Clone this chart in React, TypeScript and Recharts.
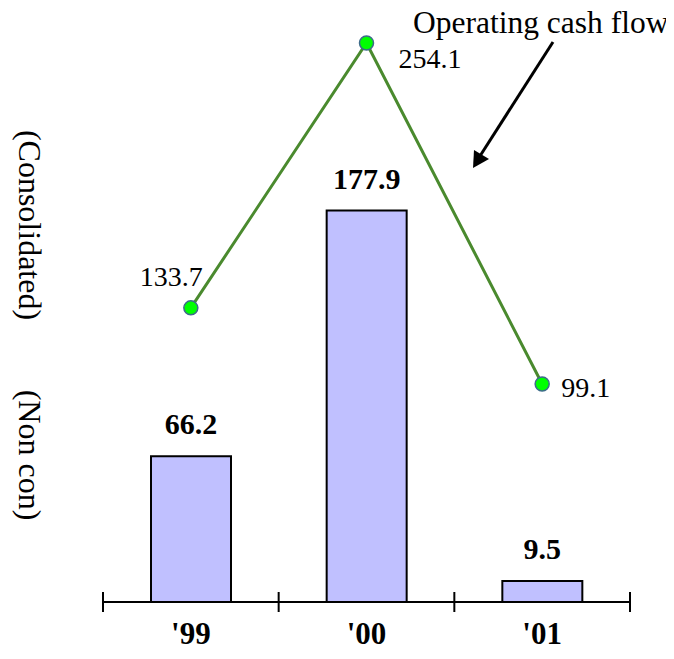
import { ComposedChart, Bar, Line, XAxis, YAxis, LabelList, Customized } from 'recharts';

const years = ["'99", "'00", "'01"];
const nonConsolidated = [66.2, 177.9, 9.5];
const operatingCashFlow = [133.7, 254.1, 99.1];

const data = years.map((year, i) => ({
  year,
  nonCon: nonConsolidated[i],
  cashFlow: operatingCashFlow[i],
}));

const FONT = '"Liberation Serif", "Times New Roman", serif';

// where each cash flow label sits relative to its point
const cashLabelPlacement = [
  { dx: 12, dy: -22, anchor: 'end' },
  { dx: 32, dy: 25, anchor: 'start' },
  { dx: 19, dy: 13, anchor: 'start' },
];

const YearTick = (props: any) => {
  const { x, y, payload, index, width, visibleTicksCount } = props;
  const count = visibleTicksCount || years.length;
  const band = typeof width === 'number' ? width / count : (payload.offset || 0) * 2;
  const left = x - band / 2;
  const right = x + band / 2;
  return (
    <g>
      <line x1={left} x2={left} y1={y - 10} y2={y + 10} stroke="#000" strokeWidth={2} />
      {index === count - 1 && (
        <line x1={right} x2={right} y1={y - 10} y2={y + 10} stroke="#000" strokeWidth={2} />
      )}
      <text x={x} y={y + 42} textAnchor="middle" fontFamily={FONT} fontSize={31} fontWeight="bold" fill="#000">
        {payload.value}
      </text>
    </g>
  );
};

const CashLabel = (props: any) => {
  const { x, y, value, index } = props;
  const p = cashLabelPlacement[index] || cashLabelPlacement[0];
  return (
    <text x={x + p.dx} y={y + p.dy} textAnchor={p.anchor} fontFamily={FONT} fontSize={28} fill="#000">
      {value}
    </text>
  );
};

const Annotations = () => (
  <g fontFamily={FONT} fill="#000">
    <text x={413} y={33} fontSize={31.5}>Operating cash flow</text>
    <line x1={553} y1={42} x2={480} y2={156} stroke="#000" strokeWidth={3} />
    <polygon points="473,168 474,150 489,159" fill="#000" />
    <text x={30} y={225} fontSize={32} textAnchor="middle" dominantBaseline="central" transform="rotate(90 30 225)">
      (Consolidated)
    </text>
    <text x={30} y={455} fontSize={32} textAnchor="middle" dominantBaseline="central" transform="rotate(90 30 455)">
      (Non con)
    </text>
  </g>
);

export default function App() {
  return (
    <div style={{ margin: -8, background: '#fff', width: 674, height: 659 }}>
      <ComposedChart width={674} height={659} data={data} margin={{ top: 8, right: 44, bottom: 7, left: 103 }}>
        <XAxis
          dataKey="year"
          interval={0}
          height={50}
          tickSize={0}
          tickMargin={0}
          tickLine={false}
          axisLine={{ stroke: '#000', strokeWidth: 2 }}
          tick={<YearTick />}
        />
        <YAxis hide domain={[0, 270]} />
        <Bar dataKey="nonCon" barSize={80} fill="#c0c0ff" stroke="#000" strokeWidth={2} isAnimationActive={false}>
          <LabelList
            dataKey="nonCon"
            position="top"
            offset={22}
            fontFamily={FONT}
            fontSize={30}
            fontWeight="bold"
            fill="#000"
          />
        </Bar>
        <Line
          dataKey="cashFlow"
          stroke="#4a8a2e"
          strokeWidth={3}
          dot={{ r: 7, fill: '#00ff00', stroke: '#3d6b8a', strokeWidth: 1.5 }}
          activeDot={false}
          isAnimationActive={false}
        >
          <LabelList dataKey="cashFlow" content={<CashLabel />} />
        </Line>
        <Customized component={Annotations} />
      </ComposedChart>
    </div>
  );
}
